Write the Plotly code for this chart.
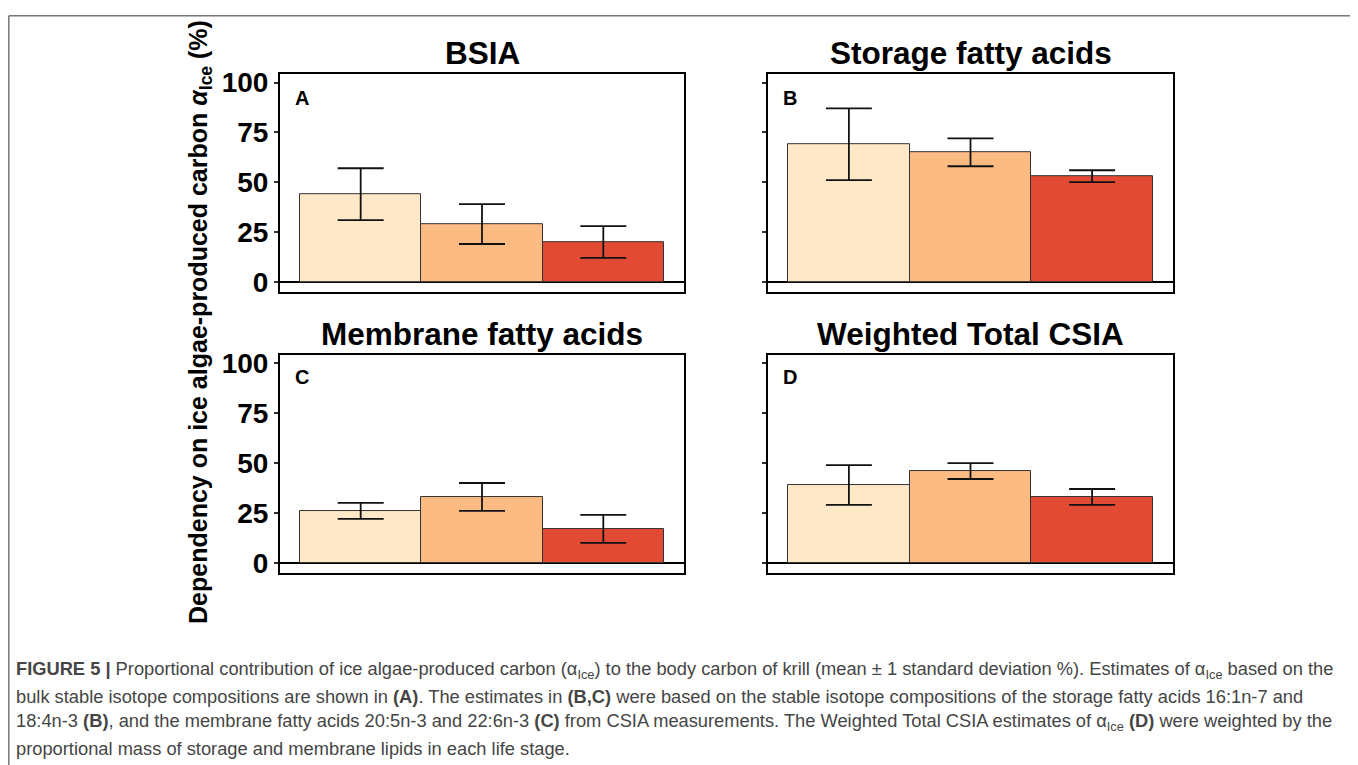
import plotly.graph_objects as go

W, H = 1358, 765
# measured placement of the figure in the photographed page
OFF_X = 8
OFF_Y = 15
SCALE_Y = 0.98

stages = ["Stage 1", "Stage 2", "Stage 3"]
stage_colors = ["#fee8c8", "#fdbb84", "#e34a33"]

panel_titles = ["BSIA", "Storage fatty acids", "Membrane fatty acids", "Weighted Total CSIA"]
panel_letters = ["A", "B", "C", "D"]

bsia_mean = [44, 29, 20]
bsia_sd = [13, 10, 8]
storage_mean = [69, 65, 53]
storage_sd = [18, 7, 3]
membrane_mean = [26, 33, 17]
membrane_sd = [4, 7, 7]
weighted_mean = [39, 46, 33]
weighted_sd = [10, 4, 4]

y_ticks = [0, 25, 50, 75, 100]

caption_lines = [
    "<b>FIGURE 5 |</b> Proportional contribution of ice algae-produced carbon (α<sub>Ice</sub>) to the body carbon of krill "
    "(mean ± 1 standard deviation %). Estimates of α<sub>Ice</sub> based on the",
    "bulk stable isotope compositions are shown in <b>(A)</b>. The estimates in <b>(B,C)</b> were based on the stable "
    "isotope compositions of the storage fatty acids 16:1n-7 and",
    "18:4n-3 <b>(B)</b>, and the membrane fatty acids 20:5n-3 and 22:6n-3 <b>(C)</b> from CSIA measurements. The Weighted "
    "Total CSIA estimates of α<sub>Ice</sub> <b>(D)</b> were weighted by the",
    "proportional mass of storage and membrane lipids in each life stage.",
]

means = [bsia_mean, storage_mean, membrane_mean, weighted_mean]
sds = [bsia_sd, storage_sd, membrane_sd, weighted_sd]

# panel boxes in page pixels: (left, right, top, bottom)
boxes = [
    (280, 684, 74, 291),
    (768, 1173, 74, 291),
    (280, 684, 354, 571),
    (768, 1173, 354, 571),
]
letter_dy = [24, 24, 22, 22]


def px_x(x):
    return (x - OFF_X) / W


def px_y(y):
    return 1 - ((y - OFF_Y) / SCALE_Y) / H


fig = go.Figure()
layout = {}
annotations = []

for i, (m, s) in enumerate(zip(means, sds)):
    n = i + 1
    xa = "x" if n == 1 else f"x{n}"
    ya = "y" if n == 1 else f"y{n}"
    left, right, top, bottom = boxes[i]

    fig.add_trace(
        go.Bar(
            x=stages,
            y=m,
            xaxis=xa,
            yaxis=ya,
            width=1,
            marker=dict(color=stage_colors, line=dict(color="#333333", width=1)),
            error_y=dict(type="data", array=s, color="#111111", thickness=1.8, width=23),
            showlegend=False,
        )
    )

    layout["xaxis" if n == 1 else f"xaxis{n}"] = dict(
        domain=[px_x(left), px_x(right)],
        anchor=ya,
        type="category",
        range=[-0.665, 2.665],
        showticklabels=False,
        ticks="",
        showgrid=False,
        showline=True,
        mirror=True,
        linecolor="black",
        linewidth=2,
    )
    layout["yaxis" if n == 1 else f"yaxis{n}"] = dict(
        domain=[px_y(bottom), px_y(top)],
        anchor=xa,
        range=[-5, 104.2],
        tickvals=y_ticks,
        ticks="outside",
        ticklen=4,
        tickwidth=1.5,
        tickcolor="#333333",
        showticklabels=(i % 2 == 0),
        tickfont=dict(family="Liberation Sans, Arial", size=28, color="black", weight="bold"),
        showgrid=False,
        zeroline=True,
        zerolinecolor="black",
        zerolinewidth=2,
        showline=True,
        mirror=True,
        linecolor="black",
        linewidth=2,
    )

    annotations.append(
        dict(
            text=f"<b>{panel_titles[i]}</b>",
            x=px_x((left + right) / 2),
            y=px_y(top - 21),
            xref="paper",
            yref="paper",
            xanchor="center",
            yanchor="middle",
            showarrow=False,
            font=dict(family="Liberation Sans, Arial", size=31.5, color="black"),
        )
    )
    annotations.append(
        dict(
            text=f"<b>{panel_letters[i]}</b>",
            x=px_x(left + 13),
            y=px_y(top + letter_dy[i]),
            xref="paper",
            yref="paper",
            xanchor="left",
            yanchor="middle",
            showarrow=False,
            font=dict(family="Liberation Sans, Arial", size=20, color="black"),
        )
    )

annotations.append(
    dict(
        text="<b>Dependency on ice algae-produced carbon <i>α</i><sub>Ice</sub> (%)</b>",
        x=px_x(200),
        y=px_y(321),
        xref="paper",
        yref="paper",
        xanchor="center",
        yanchor="middle",
        textangle=-90,
        showarrow=False,
        font=dict(family="Liberation Sans, Arial", size=25, color="black"),
    )
)

for k, line in enumerate(caption_lines):
    annotations.append(
        dict(
            text=line,
            x=px_x(14),
            y=px_y(668 + 26 * k),
            xref="paper",
            yref="paper",
            xanchor="left",
            yanchor="middle",
            showarrow=False,
            font=dict(family="Liberation Sans, Arial", size=18.3, color="#454545"),
        )
    )

frame = dict(color="#777777", width=1.5)
fig.update_layout(
    width=W,
    height=H,
    margin=dict(l=0, r=0, t=0, b=0),
    paper_bgcolor="white",
    plot_bgcolor="white",
    bargap=0,
    annotations=annotations,
    shapes=[
        dict(type="line", xref="paper", yref="paper", x0=0.0006, x1=px_x(1355), y0=0.999, y1=0.999, line=frame),
        dict(type="line", xref="paper", yref="paper", x0=0.0006, x1=0.0006, y0=0.999, y1=0, line=frame),
        dict(type="line", xref="paper", yref="paper", x0=px_x(1355), x1=px_x(1355), y0=0.999, y1=0, line=frame),
    ],
    **layout,
)

fig.write_html("out.html")
